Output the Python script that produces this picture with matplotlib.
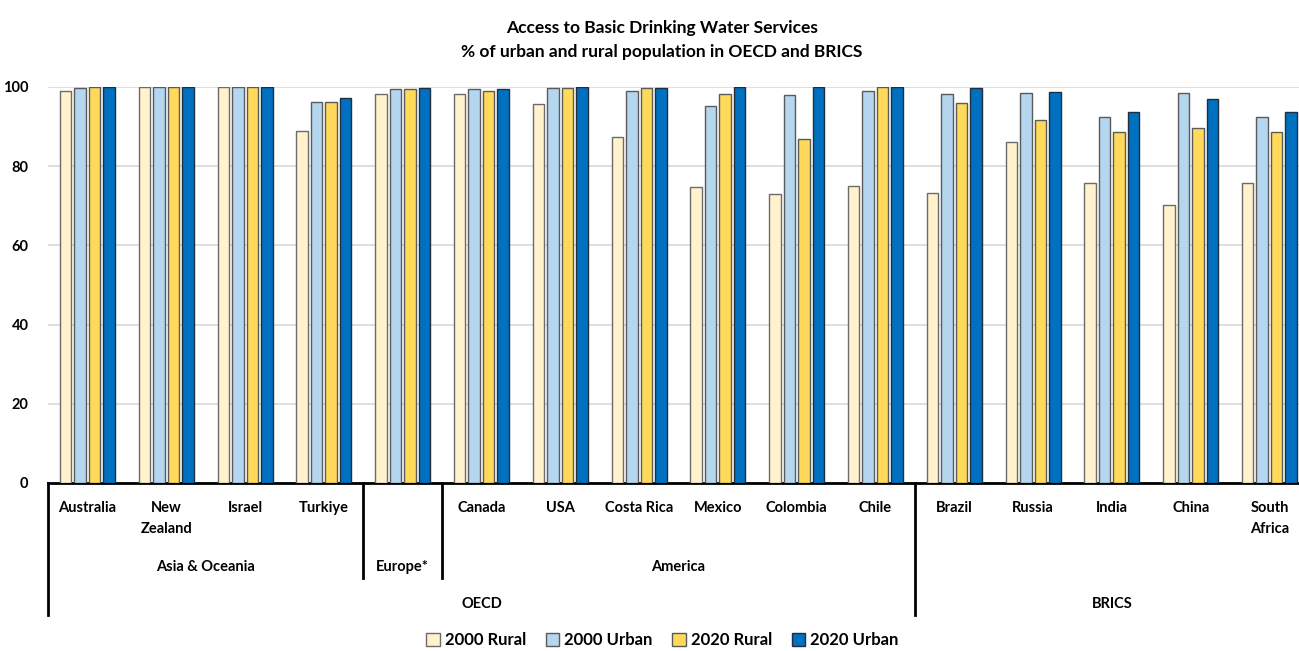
import matplotlib
matplotlib.use("Agg")
import matplotlib.pyplot as plt
import numpy as np
from matplotlib.transforms import blended_transform_factory
from matplotlib.lines import Line2D
from matplotlib.patches import Patch

plt.rcParams['font.family'] = ['Lato', 'DejaVu Sans']

countries = ["Australia", "New\nZealand", "Israel", "Turkiye", "", "Canada", "USA",
             "Costa Rica", "Mexico", "Colombia", "Chile", "Brazil", "Russia", "India",
             "China", "South\nAfrica"]
rural_2000 = [99.1, 100, 100, 89.0, 98.2, 98.2, 95.6, 87.5, 74.7, 72.9, 75.0,
              73.2, 86.0, 75.8, 70.2, 75.8]
urban_2000 = [99.7, 100, 100, 96.1, 99.4, 99.4, 99.7, 99.1, 95.3, 98.0, 99.1,
              98.2, 98.6, 92.5, 98.6, 92.5]
rural_2020 = [100, 100, 100, 96.1, 99.4, 99.1, 99.7, 99.7, 98.2, 86.9, 100,
              95.9, 91.7, 88.6, 89.6, 88.6]
urban_2020 = [100, 100, 100, 97.3, 99.7, 99.4, 100, 99.7, 100, 100, 100,
              99.7, 98.7, 93.7, 97.0, 93.7]
series_labels = ["2000 Rural", "2000 Urban", "2020 Rural", "2020 Urban"]
series_colors = ["#FFF2CC", "#B4D6EF", "#FFD95A", "#0070C0"]
series_edges = ["#6b6b6b", "#5a5a5a", "#5a5a5a", "#1f2f3f"]
yticks = [0, 20, 40, 60, 80, 100]

W, H = 1299, 651
fig = plt.figure(figsize=(W / 100, H / 100), dpi=100)
ax = fig.add_axes([48 / W, 1 - 483 / H, 1 - 48 / W, (483 - 87) / H])

x = np.arange(len(countries))
pitch = 0.184
width = 0.146
series = [rural_2000, urban_2000, rural_2020, urban_2020]
for k, (vals, c, ec) in enumerate(zip(series, series_colors, series_edges)):
    ax.bar(x + (k - 1.5) * pitch, vals, width=width, color=c, edgecolor=ec,
           linewidth=1.0, zorder=3)

ax.set_xlim(-0.5, 15.375)
ax.set_ylim(0, 100)
ax.set_yticks(yticks)
ax.set_yticklabels([str(v) for v in yticks], fontsize=10.5, fontweight='bold')
ax.set_xticks([])
ax.tick_params(axis='y', length=0, pad=14)
ax.grid(axis='y', color='#d9d9d9', linewidth=1.2, zorder=0)
for s in ['top', 'right', 'left']:
    ax.spines[s].set_visible(False)
ax.spines['bottom'].set_linewidth(2)
ax.spines['bottom'].set_color('black')

tr = blended_transform_factory(ax.transData, fig.transFigure)

def fy(py):
    return 1 - py / H

# Country labels
for xi, name in zip(x, countries):
    if name:
        ax.text(xi, fy(501), name, transform=tr, ha='center', va='top',
                fontsize=10.5, fontweight='bold', linespacing=1.6)

# Region labels
for xi, name in [(1.5, "Asia & Oceania"), (4, "Europe*"), (7.5, "America")]:
    ax.text(xi, fy(567), name, transform=tr, ha='center', va='center',
            fontsize=10.5, fontweight='bold')
for xi, name in [(5, "OECD"), (13, "BRICS")]:
    ax.text(xi, fy(604), name, transform=tr, ha='center', va='center',
            fontsize=10.5, fontweight='bold')

# Group separators
for xs, ybot in [(-0.5, 615), (3.5, 578), (4.5, 578), (10.5, 615)]:
    ax.add_line(Line2D([xs, xs], [fy(483), fy(ybot)], transform=tr, color='black',
                       linewidth=2, clip_on=False))

fig.text(662 / W, fy(28), "Access to Basic Drinking Water Services", ha='center',
         va='center', fontsize=12.5, fontweight='bold')
fig.text(662 / W, fy(52), "% of urban and rural population in OECD and BRICS", ha='center',
         va='center', fontsize=12.5, fontweight='bold')

handles = [Patch(facecolor=c, edgecolor=ec, linewidth=1.0)
           for c, ec in zip(series_colors, series_edges)]
fig.legend(handles, series_labels, loc='center', bbox_to_anchor=(0.51, fy(640)),
           ncol=4, frameon=False, prop={'weight': 'bold', 'size': 12},
           handlelength=0.8, handleheight=0.8, handletextpad=0.3, columnspacing=1.2)

fig.savefig("out.png", dpi=100)
